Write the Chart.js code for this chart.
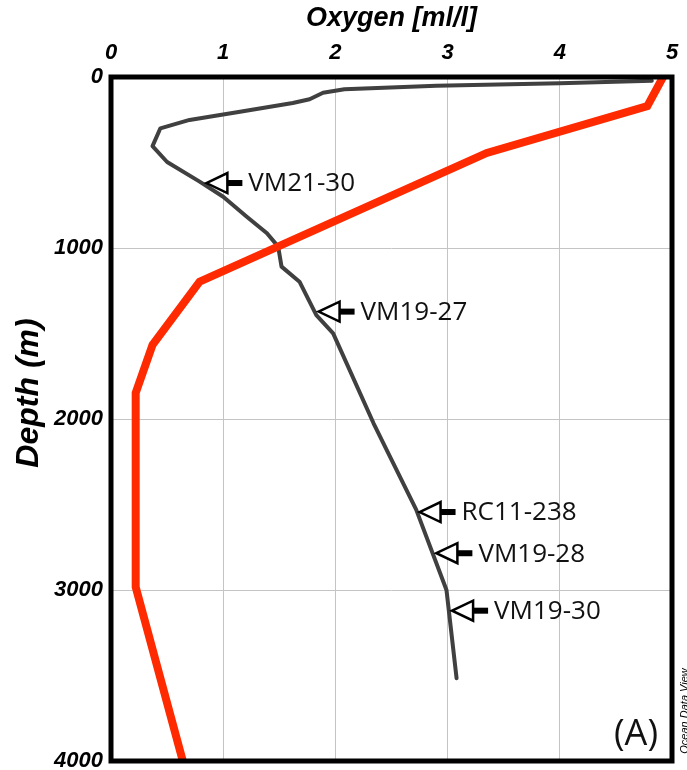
<!DOCTYPE html>
<html>
<head>
<meta charset="utf-8">
<script src="https://cdn.jsdelivr.net/npm/chart.js@4.4.1/dist/chart.umd.min.js"></script>
<style>
  html, body { margin: 0; padding: 0; background: #fff; }
  #wrap { width: 687px; height: 770px; position: relative; }
</style>
</head>
<body>
<div id="wrap"><canvas id="oxygen_chart"></canvas></div>
<script>
// Oxygen profile at the core sites (grey line)
const sites_depth  = [22, 37, 51, 72, 92, 130, 152, 203, 251, 300, 404, 497, 612, 700, 817, 914, 992, 1109, 1197, 1392, 1499, 2025, 2530, 3000, 3516];
const sites_oxygen = [4.82, 4.00, 2.90, 2.08, 1.89, 1.77, 1.62, 1.15, 0.70, 0.44, 0.37, 0.50, 0.79, 1.00, 1.21, 1.39, 1.49, 1.52, 1.68, 1.83, 1.98, 2.34, 2.72, 2.99, 3.08];

// Second oxygen profile (red line)
const red_depth  = [0, 170, 444, 1197, 1567, 1848, 2982, 4000];
const red_oxygen = [4.92, 4.78, 3.35, 0.79, 0.37, 0.22, 0.22, 0.64];

// Cores marked with arrows
const core_names  = ["VM21-30", "VM19-27", "RC11-238", "VM19-28", "VM19-30"];
const core_oxygen = [0.85, 1.85, 2.75, 2.90, 3.04];
const core_depth  = [620, 1372, 2544, 2785, 3121];

const x_ticks = [0, 1, 2, 3, 4, 5];
const y_ticks = [0, 1000, 2000, 3000, 4000];

function to_points(xs, ys){
  return xs.map((v, i) => ({x: v, y: ys[i]}));
}

const tick_font = {family: "Liberation Sans", size: 22, style: "italic", weight: "bold"};

// frame, arrows and the small labels
const extras = {
  id: "extras",
  afterDatasetsDraw(chart){
    const ctx = chart.ctx;
    const a = chart.chartArea;
    const xs = chart.scales.x, ys = chart.scales.y;
    ctx.save();

    // arrows pointing at the cores
    core_names.forEach((name, i) => {
      const px = xs.getPixelForValue(core_oxygen[i]);
      const py = ys.getPixelForValue(core_depth[i]);
      ctx.beginPath();
      ctx.moveTo(px, py);
      ctx.lineTo(px + 21, py - 10);
      ctx.lineTo(px + 21, py + 10);
      ctx.closePath();
      ctx.fillStyle = "#fff";
      ctx.fill();
      ctx.lineWidth = 2.5;
      ctx.strokeStyle = "#000";
      ctx.stroke();
      ctx.fillStyle = "#000";
      ctx.fillRect(px + 21, py - 3, 15, 6);
      ctx.font = "26px 'Open Sans'";
      ctx.textAlign = "left";
      ctx.textBaseline = "middle";
      ctx.fillStyle = "#111";
      ctx.fillText(name, px + 42, py + 1);
    });

    // frame
    ctx.lineWidth = 5;
    ctx.strokeStyle = "#000";
    ctx.strokeRect(a.left, a.top, a.right - a.left, a.bottom - a.top);

    // panel letter
    ctx.font = "36px 'Open Sans'";
    ctx.textAlign = "center";
    ctx.textBaseline = "middle";
    ctx.fillStyle = "#111";
    ctx.fillText("(A)", a.right - 36, a.bottom - 26);

    // y axis title
    ctx.save();
    ctx.translate(29, 393);
    ctx.rotate(-Math.PI / 2);
    ctx.font = "italic bold 32px 'Liberation Sans'";
    ctx.fillStyle = "#000";
    ctx.fillText("Depth (m)", 0, 0);
    ctx.restore();

    // software credit
    ctx.save();
    ctx.translate(685, a.bottom - 50);
    ctx.rotate(-Math.PI / 2);
    ctx.font = "italic 11px 'Liberation Sans'";
    ctx.fillStyle = "#000";
    ctx.fillText("Ocean Data View", 0, 0);
    ctx.restore();

    ctx.restore();
  }
};

new Chart(document.getElementById("oxygen_chart").getContext("2d"), {
  type: "scatter",
  data: {
    datasets: [
      {
        label: "Red profile",
        data: to_points(red_oxygen, red_depth),
        showLine: true,
        borderColor: "#ff2a00",
        backgroundColor: "#ff2a00",
        borderWidth: 8,
        pointRadius: 0,
        order: 0
      },
      {
        label: "Core sites",
        data: to_points(sites_oxygen, sites_depth),
        showLine: true,
        borderColor: "#404040",
        backgroundColor: "#404040",
        borderWidth: 4,
        borderCapStyle: "round",
        borderJoinStyle: "round",
        pointRadius: 0,
        order: 1
      }
    ]
  },
  options: {
    responsive: true,
    maintainAspectRatio: false,
    animation: false,
    layout: { padding: { left: 0, top: 0, right: 15, bottom: 9 } },
    plugins: {
      legend: { display: false },
      tooltip: { enabled: false }
    },
    scales: {
      x: {
        type: "linear",
        position: "top",
        min: 0,
        max: 5,
        afterBuildTicks: s => { s.ticks = x_ticks.map(v => ({value: v})); },
        afterFit: s => { s.height = 77; s.paddingLeft = 0; s.paddingRight = 0; },
        border: { display: false },
        grid: { color: "#c4c4c4", lineWidth: 1, drawTicks: false },
        ticks: { font: tick_font, color: "#000", padding: 11, maxRotation: 0 },
        title: {
          display: true,
          text: "Oxygen [ml/l]",
          font: {family: "Liberation Sans", size: 27, style: "italic", weight: "bold"},
          color: "#000",
          padding: { top: 2, bottom: 0 }
        }
      },
      y: {
        type: "linear",
        reverse: true,
        min: 0,
        max: 4000,
        afterBuildTicks: s => { s.ticks = y_ticks.map(v => ({value: v})); },
        afterFit: s => { s.width = 111; s.paddingTop = 0; s.paddingBottom = 0; },
        border: { display: false },
        grid: { color: "#c4c4c4", lineWidth: 1, drawTicks: false },
        ticks: { font: tick_font, color: "#000", padding: 8, callback: v => String(v) }
      }
    }
  },
  plugins: [extras]
});
</script>
</body>
</html>
